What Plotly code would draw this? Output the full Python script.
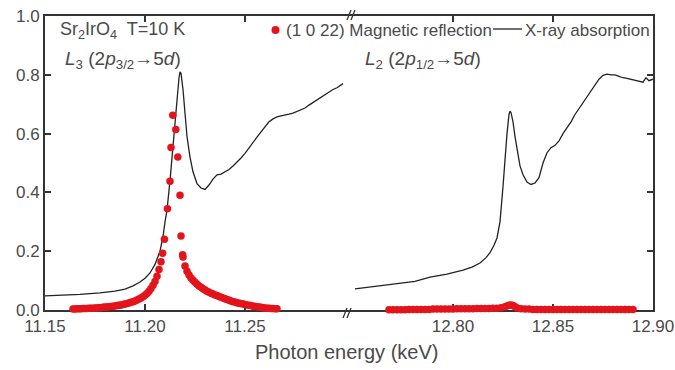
import plotly.graph_objects as go

# ---- X-ray absorption (black line), L3 edge ----
l3_energy = [11.150, 11.1575, 11.1675, 11.1775, 11.185, 11.190, 11.194, 11.1975, 11.200,
             11.2025, 11.205, 11.2075, 11.209, 11.210, 11.211, 11.2125, 11.214, 11.215,
             11.216, 11.217, 11.2175, 11.218, 11.219, 11.220, 11.221, 11.2225, 11.224,
             11.226, 11.228, 11.230, 11.232, 11.234, 11.236, 11.238, 11.240, 11.242,
             11.244, 11.246, 11.248, 11.250, 11.252, 11.254, 11.256, 11.258, 11.260,
             11.262, 11.264, 11.266, 11.268, 11.270, 11.272, 11.274, 11.276, 11.278,
             11.280, 11.282, 11.284, 11.286, 11.288, 11.290, 11.292, 11.294, 11.296,
             11.298, 11.299]
l3_absorption = [0.048, 0.050, 0.053, 0.058, 0.064, 0.071, 0.082, 0.095, 0.108,
                 0.126, 0.155, 0.200, 0.250, 0.300, 0.340, 0.440, 0.560, 0.660,
                 0.740, 0.790, 0.810, 0.805, 0.750, 0.680, 0.590, 0.520, 0.470,
                 0.430, 0.415, 0.410, 0.425, 0.445, 0.460, 0.462, 0.470, 0.478,
                 0.490, 0.502, 0.517, 0.533, 0.550, 0.568, 0.588, 0.606, 0.624,
                 0.640, 0.650, 0.657, 0.660, 0.662, 0.666, 0.670, 0.675, 0.680,
                 0.687, 0.697, 0.706, 0.716, 0.726, 0.735, 0.744, 0.750, 0.756,
                 0.765, 0.770]

# ---- X-ray absorption (black line), L2 edge ----
l2_energy = [12.751, 12.7585, 12.772, 12.781, 12.7885, 12.797, 12.805, 12.8095, 12.8135,
             12.8165, 12.8185, 12.8205, 12.822, 12.8235, 12.825, 12.826, 12.827, 12.828,
             12.8285, 12.829, 12.830, 12.831, 12.832, 12.8335, 12.835, 12.837, 12.839,
             12.841, 12.843, 12.845, 12.847, 12.849, 12.851, 12.853, 12.855, 12.857,
             12.859, 12.861, 12.863, 12.865, 12.867, 12.869, 12.871, 12.873, 12.875,
             12.877, 12.879, 12.881, 12.883, 12.885, 12.887, 12.889, 12.891, 12.893,
             12.895, 12.8965, 12.898, 12.900]
l2_absorption = [0.072, 0.078, 0.090, 0.097, 0.112, 0.122, 0.136, 0.146, 0.160,
                 0.178, 0.195, 0.220, 0.245, 0.300, 0.420, 0.520, 0.600, 0.665,
                 0.676, 0.672, 0.640, 0.590, 0.546, 0.490, 0.460, 0.435, 0.427,
                 0.432, 0.450, 0.500, 0.535, 0.552, 0.560, 0.575, 0.600, 0.620,
                 0.640, 0.665, 0.685, 0.705, 0.725, 0.745, 0.765, 0.785, 0.798,
                 0.802, 0.800, 0.800, 0.795, 0.790, 0.788, 0.785, 0.780, 0.778,
                 0.775, 0.790, 0.780, 0.785]

# ---- (1 0 22) magnetic reflection (red dots), L3 edge ----
mag_l3_energy = [11.164, 11.165, 11.166, 11.167, 11.168, 11.169, 11.170, 11.171, 11.172,
                 11.173, 11.174, 11.175, 11.176, 11.177, 11.178, 11.179, 11.180, 11.181,
                 11.182, 11.183, 11.184, 11.185, 11.186, 11.187, 11.188, 11.189, 11.190,
                 11.191, 11.192, 11.193, 11.194, 11.195, 11.196, 11.197, 11.198, 11.199,
                 11.200, 11.201, 11.202, 11.203, 11.204, 11.205, 11.206, 11.207, 11.208,
                 11.2088, 11.2097, 11.2112, 11.2125, 11.2130, 11.2139, 11.2154, 11.2164,
                 11.2175, 11.2180, 11.2188,
                 11.219, 11.220, 11.221, 11.222, 11.223, 11.224, 11.225, 11.226, 11.227,
                 11.228, 11.229, 11.230, 11.231, 11.232, 11.233, 11.234, 11.235, 11.236,
                 11.237, 11.238, 11.239, 11.240, 11.241, 11.242, 11.243, 11.244, 11.245,
                 11.246, 11.247, 11.248, 11.249, 11.250, 11.251, 11.252, 11.253, 11.254,
                 11.255, 11.256, 11.257, 11.258, 11.259, 11.260, 11.261, 11.262, 11.263,
                 11.264, 11.265, 11.266]
mag_l3_intensity = [0.003, 0.003, 0.004, 0.004, 0.004, 0.005, 0.005, 0.005, 0.006,
                    0.006, 0.006, 0.007, 0.007, 0.008, 0.008, 0.009, 0.010, 0.010,
                    0.011, 0.012, 0.013, 0.014, 0.015, 0.016, 0.017, 0.019, 0.020,
                    0.022, 0.024, 0.026, 0.028, 0.031, 0.034, 0.037, 0.041, 0.045,
                    0.050, 0.056, 0.064, 0.073, 0.084, 0.097, 0.115, 0.138, 0.164,
                    0.193, 0.241, 0.344, 0.438, 0.553, 0.662, 0.614, 0.520,
                    0.390, 0.252, 0.188,
                    0.180, 0.150, 0.132, 0.119, 0.109, 0.101, 0.094, 0.088, 0.082,
                    0.077, 0.072, 0.068, 0.064, 0.060, 0.057, 0.054, 0.051, 0.049,
                    0.046, 0.043, 0.041, 0.038, 0.036, 0.033, 0.031, 0.028, 0.027,
                    0.025, 0.023, 0.022, 0.020, 0.019, 0.017, 0.016, 0.015, 0.013,
                    0.012, 0.011, 0.010, 0.009, 0.008, 0.007, 0.006, 0.006, 0.005,
                    0.005, 0.004, 0.004]

# ---- (1 0 22) magnetic reflection (red dots), L2 edge ----
mag_l2_energy = [12.768, 12.770, 12.772, 12.774, 12.776, 12.778, 12.780, 12.782, 12.784,
                 12.786, 12.788, 12.790, 12.792, 12.794, 12.796, 12.798, 12.800, 12.802,
                 12.804, 12.806, 12.808, 12.810, 12.812, 12.814, 12.816, 12.818, 12.820,
                 12.822, 12.824, 12.826, 12.827, 12.828, 12.829, 12.830, 12.831, 12.832,
                 12.834, 12.836, 12.838, 12.840, 12.842, 12.844, 12.846, 12.848, 12.850,
                 12.852, 12.854, 12.856, 12.858, 12.860, 12.862, 12.864, 12.866, 12.868,
                 12.870, 12.872, 12.874, 12.876, 12.878, 12.880, 12.882, 12.884, 12.886,
                 12.888, 12.890]
mag_l2_intensity = [0.001, 0.001, 0.001, 0.001, 0.001, 0.002, 0.002, 0.002, 0.002,
                    0.002, 0.002, 0.003, 0.003, 0.003, 0.003, 0.003, 0.003, 0.004,
                    0.004, 0.004, 0.004, 0.004, 0.005, 0.005, 0.005, 0.005, 0.006,
                    0.006, 0.008, 0.011, 0.014, 0.016, 0.017, 0.015, 0.011, 0.007,
                    0.004, 0.003, 0.003, 0.002, 0.002, 0.002, 0.002, 0.002, 0.002,
                    0.002, 0.002, 0.002, 0.002, 0.002, 0.002, 0.002, 0.002, 0.002,
                    0.002, 0.002, 0.002, 0.002, 0.002, 0.002, 0.002, 0.002, 0.002,
                    0.002, 0.002]

# ---- axes ----
x_left_range = [11.15, 11.30]
x_right_range = [12.746, 12.90]
x_left_ticks = [11.15, 11.20, 11.25]
x_right_ticks = [12.80, 12.85, 12.90]
y_ticks = [0.0, 0.2, 0.4, 0.6, 0.8, 1.0]

RED = "#e3141c"
INK = "#222222"
TEXT = "#4a4a4a"
AXIS = "#333333"
FONT = "Liberation Sans, Arial, sans-serif"

fig = go.Figure()

fig.add_trace(go.Scatter(x=l3_energy, y=l3_absorption, mode="lines",
                         line=dict(color=INK, width=1.3), xaxis="x", yaxis="y"))
fig.add_trace(go.Scatter(x=l2_energy, y=l2_absorption, mode="lines",
                         line=dict(color=INK, width=1.3), xaxis="x2", yaxis="y2"))
fig.add_trace(go.Scatter(x=mag_l3_energy, y=mag_l3_intensity, mode="markers",
                         marker=dict(color=RED, size=7.5, line=dict(width=0)),
                         cliponaxis=False, xaxis="x", yaxis="y"))
fig.add_trace(go.Scatter(x=mag_l2_energy, y=mag_l2_intensity, mode="markers",
                         marker=dict(color=RED, size=7.5, line=dict(width=0)),
                         cliponaxis=False, xaxis="x2", yaxis="y2"))

split = 300 / 608  # horizontal position of the axis break within the plot area

xcommon = dict(showline=True, linecolor=AXIS, linewidth=2, mirror="ticks",
               ticks="inside", ticklen=6, tickwidth=1.5, tickcolor=AXIS,
               showgrid=False, zeroline=False, layer="below traces",
               automargin=False, ticklabeloverflow="allow",
               tickfont=dict(family=FONT, size=17, color=TEXT))
fig.update_layout(
    xaxis=dict(domain=[0, split], range=x_left_range, tickvals=x_left_ticks,
               ticktext=[f"{v:.2f}" for v in x_left_ticks], anchor="y", **xcommon),
    xaxis2=dict(domain=[split, 1], range=x_right_range, tickvals=x_right_ticks,
                ticktext=[f"{v:.2f}" for v in x_right_ticks], anchor="y2", **xcommon),
    yaxis=dict(domain=[0, 1], range=[0, 1], tickvals=y_ticks,
               ticktext=[f"{v:.1f}" for v in y_ticks], anchor="x",
               showline=True, linecolor=AXIS, linewidth=2, ticks="inside",
               ticklen=6, tickwidth=1.5, tickcolor=AXIS, showgrid=False,
               zeroline=False, layer="below traces", automargin=False,
               tickfont=dict(family=FONT, size=17, color=TEXT)),
    yaxis2=dict(domain=[0, 1], range=[0, 1], tickvals=y_ticks, anchor="x2",
                side="right", showticklabels=False, showline=True,
                linecolor=AXIS, linewidth=2, ticks="inside", ticklen=6,
                tickwidth=1.5, tickcolor=AXIS, showgrid=False, zeroline=False,
                layer="below traces", matches="y", automargin=False),
    width=675, height=370,
    margin=dict(l=45, r=22, t=16, b=60, autoexpand=False),
    paper_bgcolor="white", plot_bgcolor="white",
    showlegend=False,
    font=dict(family=FONT, color=TEXT),
)


def px(x):
    return (x - 45) / 608


def py(y):
    return (310 - y) / 294


# axis-break marks on the bottom and top frame lines
for x0, y0 in [(347, 313), (351, 15)]:
    for dx in (-2, 2):
        fig.add_shape(type="line", xref="paper", yref="paper",
                      x0=px(x0 + dx - 2), y0=py(y0 + 5), x1=px(x0 + dx + 2), y1=py(y0 - 5),
                      line=dict(color=AXIS, width=1.3))

# legend-style header
fig.add_shape(type="circle", xref="paper", yref="paper",
              x0=px(271.5), x1=px(279.5), y0=py(34), y1=py(26),
              fillcolor=RED, line=dict(width=0))
fig.add_shape(type="line", xref="paper", yref="paper",
              x0=px(493), x1=px(522), y0=py(29), y1=py(29),
              line=dict(color=INK, width=1.3))

ann = dict(xref="paper", yref="paper", showarrow=False, yanchor="middle",
           xanchor="left", font=dict(family=FONT, size=17, color=TEXT))
fig.add_annotation(x=px(58), y=py(30), text="Sr<sub>2</sub>IrO<sub>4</sub>  T=10 K",
                   **{**ann, "font": dict(family=FONT, size=18, color=TEXT)})
fig.add_annotation(x=px(284), y=py(30), text="(1 0 22) Magnetic reflection", **ann)
fig.add_annotation(x=px(523), y=py(30), text="X-ray absorption", **ann)
lab = {**ann, "font": dict(family=FONT, size=19, color=TEXT)}
fig.add_annotation(x=px(63), y=py(60),
                   text="<i>L</i><sub>3</sub> (2<i>p</i><sub>3/2</sub>→5<i>d</i>)", **lab)
fig.add_annotation(x=px(363), y=py(60),
                   text="<i>L</i><sub>2</sub> (2<i>p</i><sub>1/2</sub>→5<i>d</i>)", **lab)
fig.add_annotation(x=px(346), y=py(352), xanchor="center",
                   text="Photon energy (keV)", xref="paper", yref="paper",
                   showarrow=False, yanchor="middle",
                   font=dict(family=FONT, size=20, color=TEXT))

fig.write_html("out.html")
